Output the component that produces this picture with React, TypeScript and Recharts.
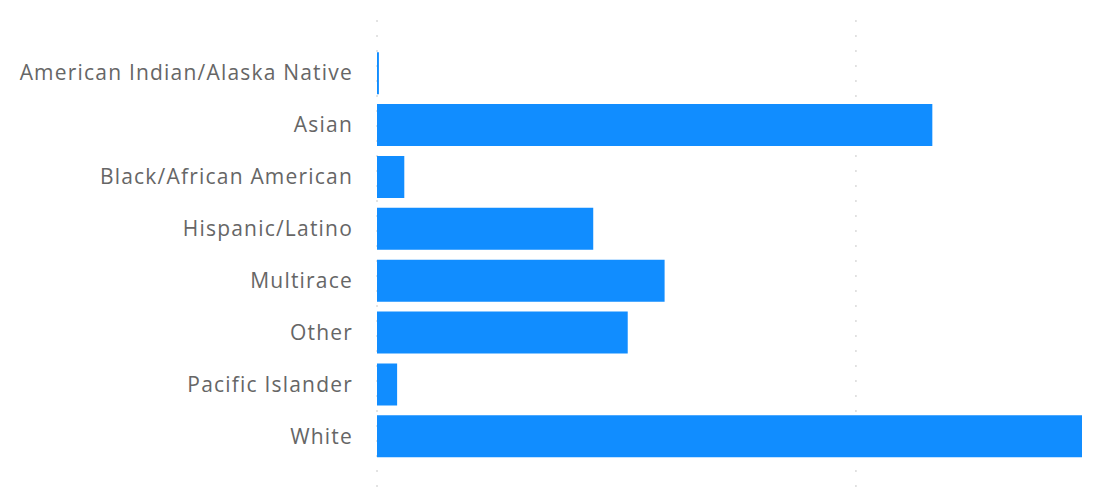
import { BarChart, Bar, XAxis, YAxis, ReferenceLine } from 'recharts';

const categories = [
    "American Indian/Alaska Native",
    "Asian",
    "Black/African American",
    "Hispanic/Latino",
    "Multirace",
    "Other",
    "Pacific Islander",
    "White",
]
const counts = [0.8, 231.9, 11.4, 90.3, 120.1, 104.7, 8.4, 294.4]
const xTicks = [0, 200]

const data = categories.map((name, i) => ({ name, value: counts[i] }))

export default function App() {
    return (
        <div style={{ position: 'absolute', left: 0, top: 0 }}>
            <BarChart
                width={1094}
                height={487}
                data={data}
                layout="vertical"
                margin={{ top: 10, right: 12, bottom: 0, left: 0 }}
                barCategoryGap="10%"
            >
                <XAxis type="number" domain={[0, 'dataMax']} ticks={xTicks} hide />
                <YAxis
                    type="category"
                    dataKey="name"
                    width={377}
                    axisLine={false}
                    tickLine={false}
                    tickSize={0}
                    tickMargin={24}
                    padding={{ top: 37, bottom: 25 }}
                    tick={{ fill: '#666666', fontSize: 21, fontFamily: 'Open Sans', letterSpacing: 1.2 }}
                    interval={0}
                />
                {/* dotted grid only at the value ticks, kept behind the bars */}
                {xTicks.map(t => (
                    <ReferenceLine key={t} x={t} stroke="#c8c8c8" strokeDasharray="2 13" zIndex={-100} />
                ))}
                <Bar dataKey="value" fill="#118DFF" isAnimationActive={false} />
            </BarChart>
        </div>
    )
}
